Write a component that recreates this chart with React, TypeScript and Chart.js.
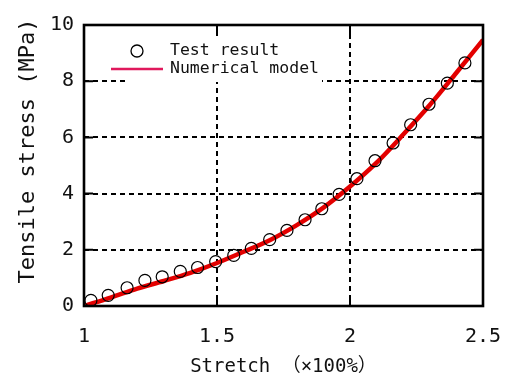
import React, { useEffect, useRef } from "react";
import { Chart, registerables } from "chart.js";

Chart.register(...registerables);

// ---- data ----
const testStretch = [1.026, 1.091, 1.162, 1.229, 1.294, 1.362, 1.427, 1.495, 1.563, 1.629, 1.698, 1.763, 1.831, 1.894, 1.959, 2.026, 2.094, 2.162, 2.228, 2.297, 2.366, 2.432];
const testStress = [0.2, 0.38, 0.65, 0.91, 1.04, 1.23, 1.37, 1.58, 1.8, 2.05, 2.36, 2.69, 3.07, 3.46, 3.97, 4.53, 5.17, 5.8, 6.45, 7.18, 7.93, 8.65];

const modelStretch = [1.0, 1.1, 1.2, 1.3, 1.4, 1.5, 1.6, 1.7, 1.8, 1.9, 2.0, 2.1, 2.2, 2.3, 2.4, 2.5];
const modelStress = [0, 0.3, 0.62, 0.89, 1.18, 1.53, 1.93, 2.35, 2.88, 3.5, 4.25, 5.1, 6.1, 7.15, 8.3, 9.47];

const xTicks = [1, 1.5, 2, 2.5];
const yTicks = [0, 2, 4, 6, 8, 10];

const xTitle = "Stretch （×100%）";
const yTitle = "Tensile stress (MPa)";
const legendLabels = ["Test result", "Numerical model"];

const MONO = "'DejaVu Sans Mono', 'Noto Sans CJK JP', monospace";
const TEXT = "#111";

const framePlugin = {
  id: "frameAndLegend",
  afterDraw(chart: any) {
    const ctx = chart.ctx as CanvasRenderingContext2D;
    const { left, right, top, bottom } = chart.chartArea;
    const xs = chart.scales.x;
    const ys = chart.scales.y;
    ctx.save();
    ctx.strokeStyle = "#000";
    ctx.lineWidth = 2;
    const tl = 9;
    xTicks.forEach((v) => {
      const px = xs.getPixelForValue(v);
      ctx.beginPath();
      ctx.moveTo(px, bottom);
      ctx.lineTo(px, bottom - tl);
      ctx.moveTo(px, top);
      ctx.lineTo(px, top + tl);
      ctx.stroke();
    });
    yTicks.forEach((v) => {
      const py = ys.getPixelForValue(v);
      ctx.beginPath();
      ctx.moveTo(left, py);
      ctx.lineTo(left + tl, py);
      ctx.moveTo(right, py);
      ctx.lineTo(right - tl, py);
      ctx.stroke();
    });
    ctx.lineWidth = 2.6;
    ctx.strokeRect(left, top, right - left, bottom - top);

    // legend
    ctx.fillStyle = "#fff";
    ctx.fillRect(126, 36, 196, 46);
    ctx.beginPath();
    ctx.lineWidth = 1.3;
    ctx.strokeStyle = "#000";
    ctx.arc(137, 51, 6, 0, Math.PI * 2);
    ctx.stroke();
    ctx.beginPath();
    ctx.strokeStyle = "#e0185c";
    ctx.lineWidth = 2.5;
    ctx.moveTo(111, 69);
    ctx.lineTo(163, 69);
    ctx.stroke();
    ctx.fillStyle = TEXT;
    ctx.font = `16.5px ${MONO}`;
    ctx.textAlign = "left";
    ctx.textBaseline = "middle";
    ctx.fillText(legendLabels[0], 170, 51);
    ctx.fillText(legendLabels[1], 170, 69);

    // y axis title
    ctx.translate(28, 151);
    ctx.rotate(-Math.PI / 2);
    ctx.font = `22px ${MONO}`;
    ctx.textAlign = "center";
    ctx.textBaseline = "middle";
    ctx.fillText(yTitle, 0, 0);
    ctx.restore();
  },
};

export default function App() {
  const canvasRef = useRef<HTMLCanvasElement | null>(null);

  useEffect(() => {
    document.body.style.margin = "0";
    const canvas = canvasRef.current;
    if (!canvas) return;
    const chart = new Chart(canvas, {
      type: "scatter",
      data: {
        datasets: [
          {
            label: legendLabels[0],
            data: testStretch.map((x, i) => ({ x, y: testStress[i] })),
            pointStyle: "circle",
            pointRadius: 6,
            pointBorderWidth: 1.2,
            pointBorderColor: "#000",
            pointBackgroundColor: "rgba(0,0,0,0)",
            showLine: false,
            order: 0,
          },
          {
            label: legendLabels[1],
            data: modelStretch.map((x, i) => ({ x, y: modelStress[i] })),
            showLine: true,
            borderColor: "#e30000",
            borderWidth: 4.5,
            pointRadius: 0,
            cubicInterpolationMode: "monotone",
            order: 1,
          },
        ],
      },
      options: {
        animation: false,
        responsive: false,
        devicePixelRatio: 1,
        layout: { padding: { left: 0, right: 26, top: 25, bottom: 0 } },
        plugins: { legend: { display: false }, tooltip: { enabled: false } },
        scales: {
          x: {
            type: "linear",
            min: 1,
            max: 2.5,
            afterBuildTicks: (s: any) => {
              s.ticks = xTicks.map((v) => ({ value: v }));
            },
            afterFit: (s: any) => {
              s.height = 79;
              s.paddingLeft = 0;
              s.paddingRight = 0;
            },
            ticks: {
              color: TEXT,
              font: { family: MONO, size: 20 },
              padding: 19,
              maxRotation: 0,
              callback: (v: any) => String(Number(Number(v).toFixed(2))),
            },
            grid: {
              drawTicks: false,
              lineWidth: 2,
              color: (c: any) =>
                c.tick && c.tick.value > 1 && c.tick.value < 2.5 ? "#000" : "rgba(0,0,0,0)",
            },
            border: { display: false, dash: [5, 4] },
            title: {
              display: true,
              text: xTitle,
              color: TEXT,
              font: { family: MONO, size: 19 },
              padding: { top: 0, bottom: 7 },
            },
          },
          y: {
            type: "linear",
            min: 0,
            max: 10,
            afterBuildTicks: (s: any) => {
              s.ticks = yTicks.map((v) => ({ value: v }));
            },
            afterFit: (s: any) => {
              s.width = 84;
              s.paddingTop = 0;
              s.paddingBottom = 0;
            },
            ticks: {
              color: TEXT,
              font: { family: MONO, size: 20 },
              padding: 10,
              callback: (v: any) => String(v),
            },
            grid: {
              drawTicks: false,
              lineWidth: 2,
              color: (c: any) =>
                c.tick && c.tick.value > 0 && c.tick.value < 10 ? "#000" : "rgba(0,0,0,0)",
            },
            border: { display: false, dash: [5, 4] },
          },
        },
      },
      plugins: [framePlugin],
    });
    return () => chart.destroy();
  }, []);

  return (
    <div style={{ width: 509, height: 385 }}>
      <canvas ref={canvasRef} width={509} height={385} style={{ display: "block" }} />
    </div>
  );
}
